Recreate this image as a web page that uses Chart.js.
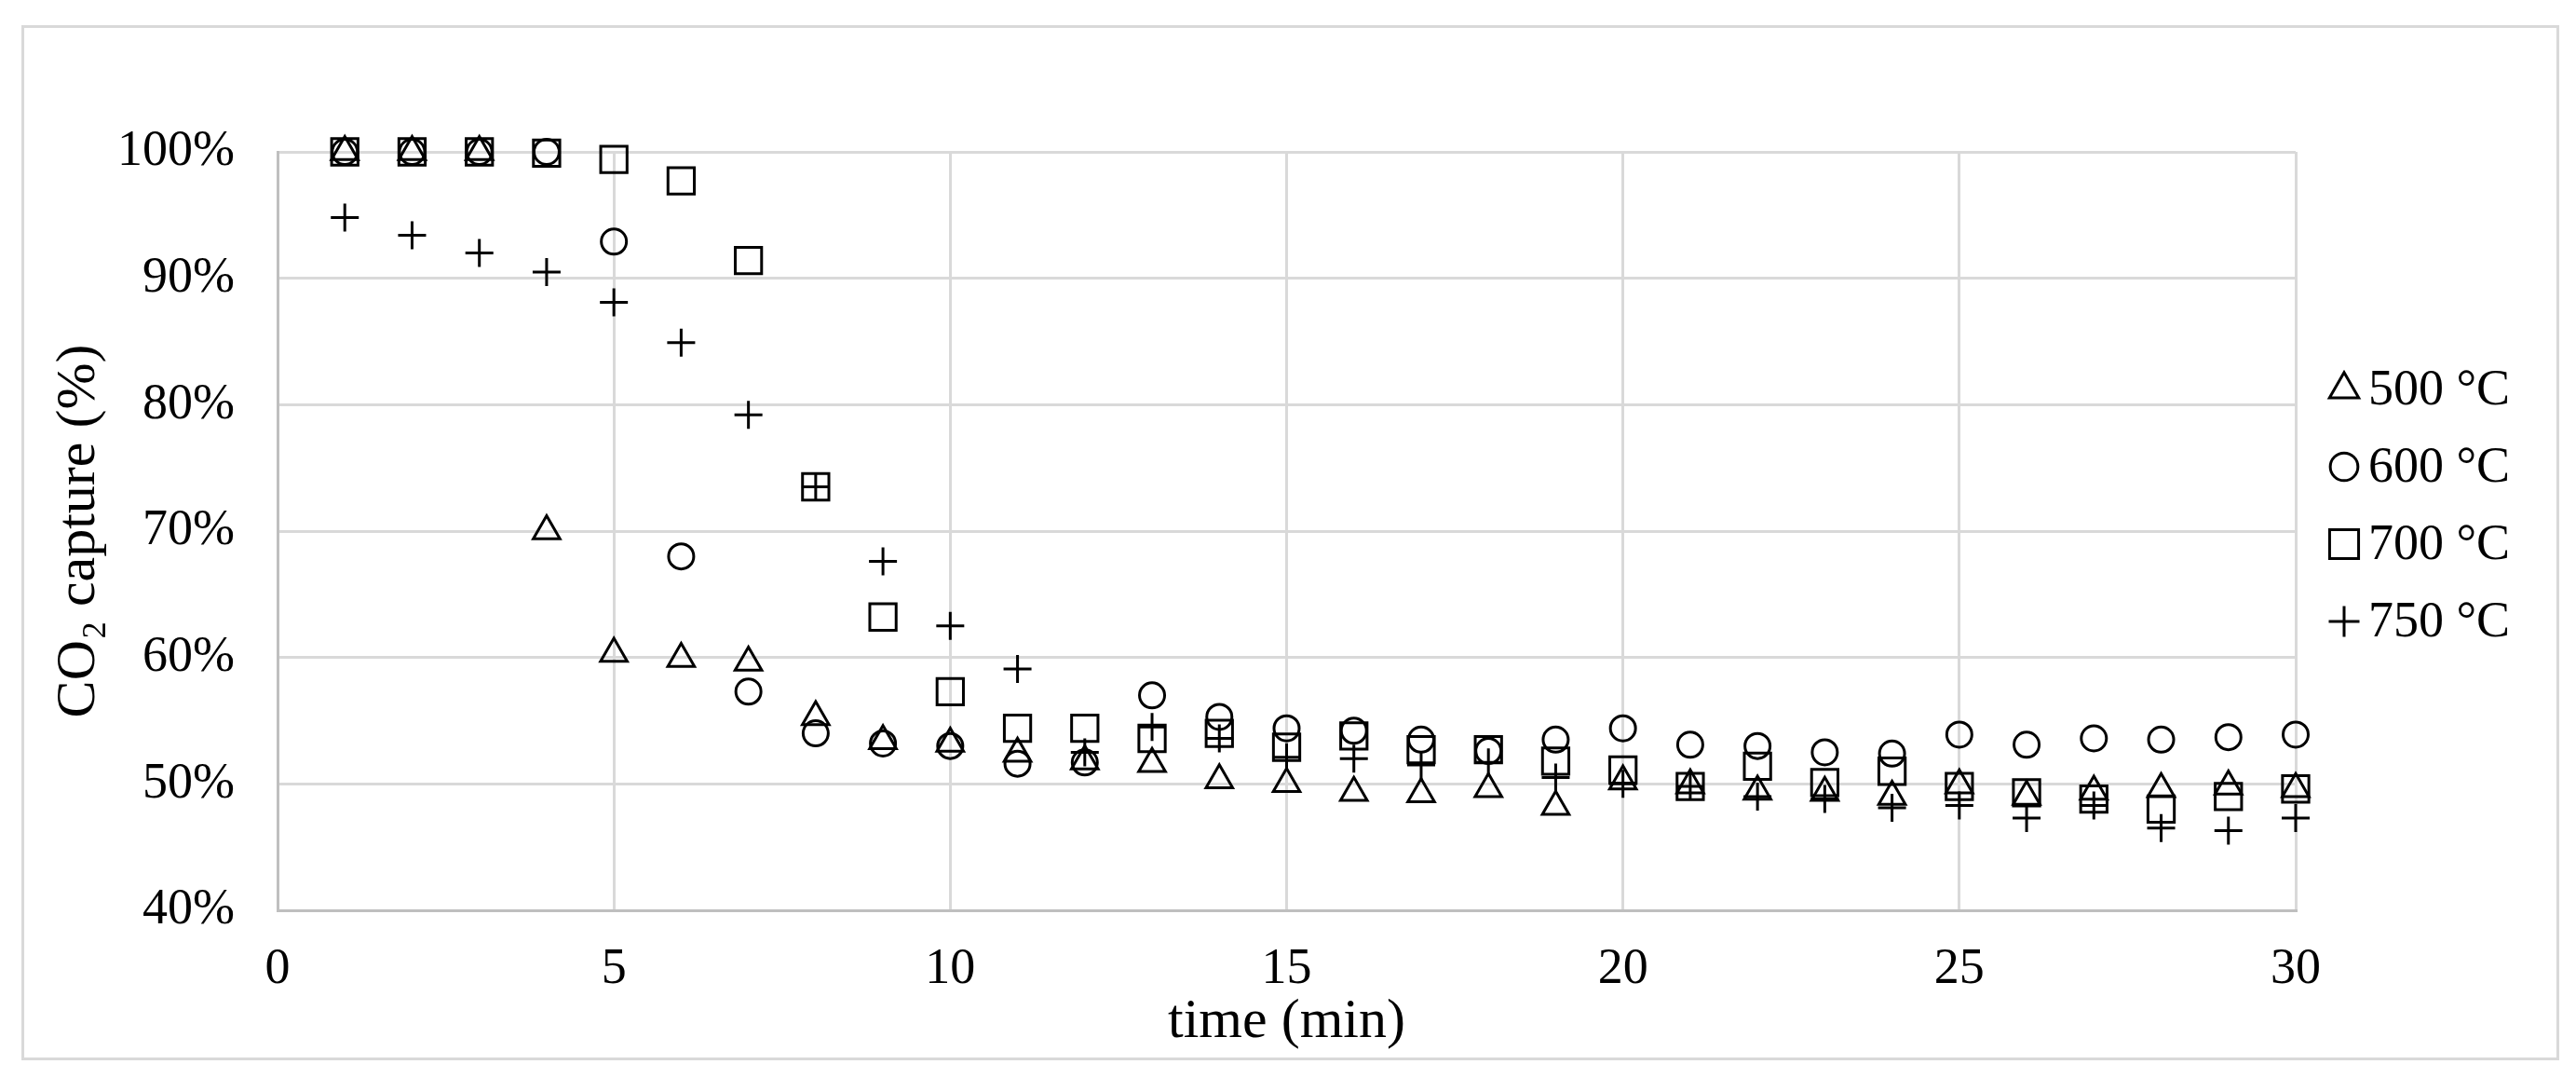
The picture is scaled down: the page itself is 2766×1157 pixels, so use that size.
<!DOCTYPE html>
<html>
<head>
<meta charset="utf-8">
<script src="https://cdn.jsdelivr.net/npm/chart.js@4.4.1/dist/chart.umd.min.js"></script>
<style>
  body { margin: 0; background: #fff; }
  #wrap { position: relative; width: 2766px; height: 1157px; }
  #frame { position: absolute; left: 23px; top: 27px; width: 2719px; height: 1105px; border: 3px solid #d9d9d9; }
  #chart { position: absolute; left: 0; top: 0; }
</style>
</head>
<body>
<div id="wrap">
  <div id="frame"></div>
  <canvas id="chart" width="2766" height="1157"></canvas>
</div>
<script>
/* CO2 capture vs time, four temperatures */
const times = [1, 2, 3, 4, 5, 6, 7, 8, 9, 10, 11, 12, 13, 14, 15, 16, 17, 18, 19, 20, 21, 22, 23, 24, 25, 26, 27, 28, 29, 30];

const capture500 = [100, 100, 100, 70.0, 60.3, 59.9, 59.6, 55.3, 53.4, 53.2, 52.4, 51.8, 51.6, 50.3, 50.0,
                    49.3, 49.2, 49.6, 48.2, 50.2, 49.9, 49.4, 49.3, 49.0, 49.9, 49.0, 49.4, 49.6, 49.8, 49.6];
const capture600 = [100, 100, 100, 100, 92.9, 68.0, 57.3, 54.0, 53.2, 53.0, 51.6, 51.7, 57.0, 55.3, 54.4,
                    54.2, 53.5, 52.6, 53.5, 54.4, 53.1, 53.0, 52.5, 52.4, 53.9, 53.1, 53.6, 53.5, 53.7, 53.9];
const capture700 = [100, 100, 100, 99.9, 99.4, 97.7, 91.4, 73.5, 63.2, 57.3, 54.4, 54.4, 53.6, 54.0, 52.9,
                    53.8, 52.7, 52.7, 51.8, 51.1, 49.8, 51.4, 50.1, 51.0, 49.8, 49.3, 48.8, 48.0, 49.0, 49.6];
const capture750 = [94.8, 93.4, 92.0, 90.5, 88.1, 84.9, 79.2, 73.5, 67.6, 62.5, 59.1, 52.5, 54.5, 53.6, 52.1,
                    52.0, 51.5, 51.7, 50.5, 50.0, 49.8, 49.0, 48.8, 48.1, 48.3, 47.3, 48.3, 46.5, 46.3, 47.3];

const seriesLabels = ['500 °C', '600 °C', '700 °C', '750 °C'];
const xTicks = [0, 5, 10, 15, 20, 25, 30];
const yTicks = [40, 50, 60, 70, 80, 90, 100];

const FONT = '"Liberation Serif", "Times New Roman", serif';

/*helper: pair times with values*/
function toPoints(values) {
    return values.map((v, i) => ({x: times[i], y: v}));
}

function makeSet(label, values, style, radius) {
    return {
        label: label,
        data: toPoints(values),
        showLine: false,
        clip: false,
        pointStyle: style,
        pointRadius: radius,
        pointHoverRadius: radius,
        pointBorderWidth: 3,
        pointBorderColor: '#000',
        pointBackgroundColor: 'rgba(0,0,0,0)'
    };
}

/*legend on the right, drawn with the dataset point styles*/
const sideLegend = {
    id: 'sideLegend',
    afterDraw(chart) {
        const {ctx, chartArea} = chart;
        ctx.save();
        ctx.font = '54px ' + FONT;
        ctx.textBaseline = 'middle';
        ctx.textAlign = 'left';
        chart.data.datasets.forEach((ds, i) => {
            const y = chartArea.top + 255 + i * 83;
            ctx.strokeStyle = '#000';
            ctx.lineWidth = 3;
            ctx.fillStyle = 'rgba(0,0,0,0)';
            Chart.helpers.drawPoint(ctx, {
                pointStyle: ds.pointStyle,
                radius: ds.pointRadius * 1.1,
                borderWidth: 3,
                rotation: 0
            }, chartArea.right + 52, y);
            ctx.fillStyle = '#000';
            ctx.fillText(ds.label, chartArea.right + 78, y + 2);
        });
        ctx.restore();
    }
};

new Chart(document.getElementById('chart'), {
    type: 'scatter',
    data: {
        datasets: [
            makeSet(seriesLabels[0], capture500, 'triangle', 16.5),
            makeSet(seriesLabels[1], capture600, 'circle', 13.5),
            makeSet(seriesLabels[2], capture700, 'rect', 20),
            makeSet(seriesLabels[3], capture750, 'cross', 15)
        ]
    },
    options: {
        responsive: false,
        animation: false,
        layout: {
            padding: {top: 163, right: 301, bottom: 0, left: 0}
        },
        scales: {
            x: {
                type: 'linear',
                min: 0,
                max: 30,
                afterBuildTicks: (scale) => { scale.ticks = xTicks.map(v => ({value: v})); },
                afterFit: (scale) => { scale.height = 180; },
                ticks: {
                    color: '#000',
                    padding: 31,
                    font: {family: FONT, size: 54}
                },
                grid: {
                    color: '#d9d9d9',
                    lineWidth: 3,
                    drawTicks: false
                },
                border: {color: '#bfbfbf', width: 3},
                title: {
                    display: true,
                    text: 'time (min)',
                    color: '#000',
                    padding: {top: 0, bottom: 24},
                    font: {family: FONT, size: 60}
                }
            },
            y: {
                type: 'linear',
                min: 40,
                max: 100,
                afterBuildTicks: (scale) => { scale.ticks = yTicks.map(v => ({value: v})); },
                afterFit: (scale) => { scale.width = 298; },
                ticks: {
                    color: '#000',
                    padding: 46,
                    font: {family: FONT, size: 54},
                    callback: (v) => v + '%'
                },
                grid: {
                    color: '#d9d9d9',
                    lineWidth: 3,
                    drawTicks: false
                },
                border: {color: '#bfbfbf', width: 3},
                title: {
                    display: true,
                    text: 'CO₂ capture (%)',
                    color: '#000',
                    padding: {top: 49, bottom: 0},
                    font: {family: FONT, size: 60}
                }
            }
        },
        plugins: {
            legend: {display: false},
            tooltip: {enabled: false}
        }
    },
    plugins: [sideLegend]
});
</script>
</body>
</html>
